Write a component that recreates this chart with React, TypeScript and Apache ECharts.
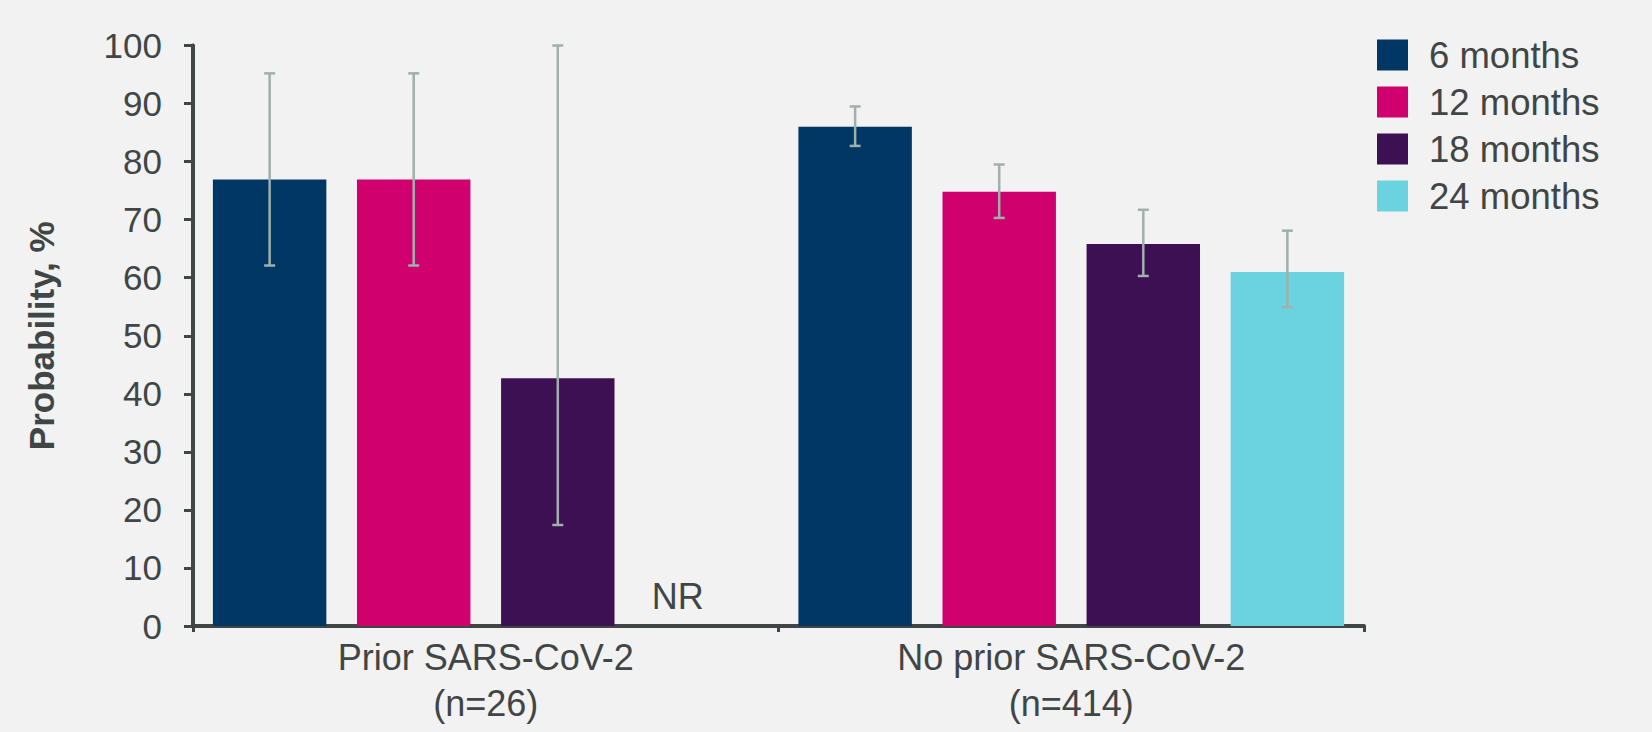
import React, { useEffect, useRef } from "react";
import * as echarts from "echarts";

const categories = ["Prior SARS-CoV-2\n(n=26)", "No prior SARS-CoV-2\n(n=414)"];
const seriesNames = ["6 months", "12 months", "18 months", "24 months"];
const colors = ["#003764", "#d0006f", "#3c1053", "#6bd3df"];
// values per series: [prior, no prior]; null = not reached
const values6 = [76.9, 86.0];
const values12 = [76.9, 74.8];
const values18 = [42.7, 65.8];
const values24: (number | null)[] = [null, 61.0];
const ciLow6 = [62.1, 82.7];
const ciHigh6 = [95.2, 89.5];
const ciLow12 = [62.1, 70.3];
const ciHigh12 = [95.2, 79.5];
const ciLow18 = [17.4, 60.3];
const ciHigh18 = [100, 71.7];
const ciLow24: (number | null)[] = [null, 54.9];
const ciHigh24: (number | null)[] = [null, 68.1];
const nrLabel = "NR";
const yTicks = { min: 0, max: 100, interval: 10 };

const FONT = "'Liberation Sans', Arial, sans-serif";
const TEXT = "#404545";
const AXIS = "#404545";
const ERR = "#9fb0ad";
const CAT_GAP = 0.068;
const BAR_GAP = 0.27;

export default function App() {
  const ref = useRef<HTMLDivElement>(null);
  useEffect(() => {
    if (!ref.current) return;
    const chart = echarts.init(ref.current, null, { renderer: "svg" });
    const allValues = [values6, values12, values18, values24];
    const lows = [ciLow6, ciLow12, ciLow18, ciLow24];
    const highs = [ciHigh6, ciHigh12, ciHigh18, ciHigh24];

    const errData: number[][] = [];
    lows.forEach((lo, si) => {
      lo.forEach((l, ci) => {
        const h = highs[si][ci];
        if (l != null && h != null) errData.push([ci, si, l, h]);
      });
    });

    const barSeries = allValues.map((vals, si) => ({
      type: "bar",
      name: seriesNames[si],
      barGap: BAR_GAP * 100 + "%",
      barCategoryGap: CAT_GAP * 100 + "%",
      itemStyle: { color: colors[si] },
      data: vals.map((v) =>
        v == null
          ? {
              value: 0,
              label: {
                show: true,
                position: "top",
                distance: 12,
                offset: [-24, 0],
                formatter: nrLabel,
                color: TEXT,
                fontSize: 36,
                fontFamily: FONT,
              },
            }
          : v
      ),
    }));

    const errSeries = {
      type: "custom",
      name: "err",
      silent: true,
      z: 10,
      data: errData,
      encode: { x: 0, y: [2, 3] },
      renderItem: (params: any, api: any) => {
        const ci = api.value(0);
        const si = api.value(1);
        const lo = api.coord([ci, api.value(2)]);
        const hi = api.coord([ci, api.value(3)]);
        const w = api.size([1, 0])[0];
        const area = w * (1 - CAT_GAP);
        const bw = area / (4 + 3 * BAR_GAP);
        const x = lo[0] - area / 2 + bw / 2 + si * bw * (1 + BAR_GAP);
        const cap = 5.5;
        const st = { stroke: ERR, lineWidth: 2.5 };
        return {
          type: "group",
          children: [
            { type: "line", shape: { x1: x, y1: lo[1], x2: x, y2: hi[1] }, style: st },
            { type: "line", shape: { x1: x - cap, y1: lo[1], x2: x + cap, y2: lo[1] }, style: st },
            { type: "line", shape: { x1: x - cap, y1: hi[1], x2: x + cap, y2: hi[1] }, style: st },
          ],
        };
      },
    };

    chart.setOption({
      animation: false,
      backgroundColor: "#f2f2f2",
      textStyle: { fontFamily: FONT },
      grid: { left: 193, right: 288, top: 45.5, bottom: 106, containLabel: false },
      legend: {
        orient: "vertical",
        left: 1377,
        top: 36.5,
        padding: 0,
        itemWidth: 31,
        itemHeight: 31,
        itemGap: 10,
        icon: "rect",
        data: seriesNames,
        textStyle: {
          color: TEXT,
          fontSize: 36.5,
          fontFamily: FONT,
          lineHeight: 36,
          padding: [0, 0, 0, 16],
        },
      },
      xAxis: {
        type: "category",
        data: categories,
        axisLine: { lineStyle: { color: AXIS, width: 4 } },
        axisTick: { show: true, length: 6, lineStyle: { color: AXIS, width: 3 } },
        axisLabel: {
          color: TEXT,
          fontSize: 36,
          fontFamily: FONT,
          lineHeight: 46,
          margin: 8,
        },
      },
      yAxis: {
        type: "value",
        min: yTicks.min,
        max: yTicks.max,
        interval: yTicks.interval,
        name: "Probability, %",
        nameLocation: "middle",
        nameGap: 134,
        nameTextStyle: { color: TEXT, fontSize: 35, fontWeight: "bold", fontFamily: FONT },
        axisLine: { show: true, lineStyle: { color: AXIS, width: 4 } },
        axisTick: { show: true, length: 9, lineStyle: { color: AXIS, width: 3 } },
        splitLine: { show: false },
        axisLabel: { color: TEXT, fontSize: 35, fontFamily: FONT, margin: 31 },
      },
      series: [...barSeries, errSeries],
    });
    return () => chart.dispose();
  }, []);
  return <div ref={ref} style={{ width: 1652, height: 732, position: "absolute", left: 0, top: 0 }} />;
}
